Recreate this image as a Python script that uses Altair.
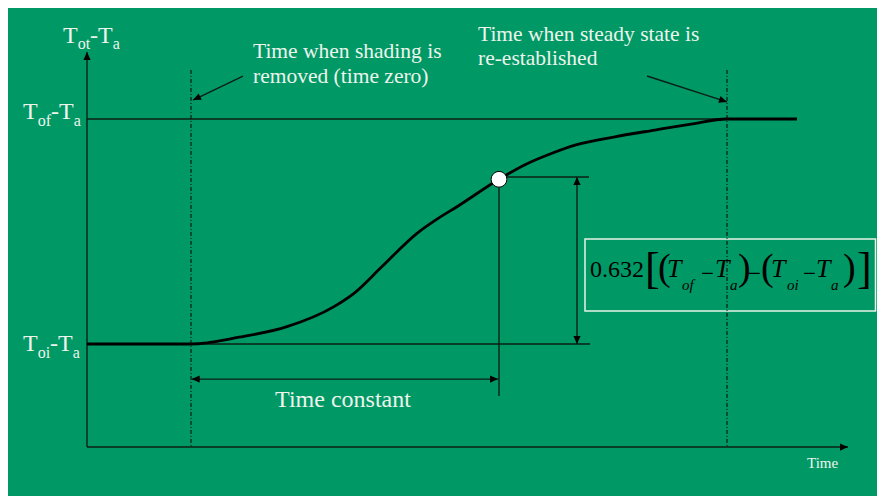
import math
import altair as alt
import pandas as pd

# ---------------- data ----------------
# time in arbitrary units (t = 0 when shading is removed),
# theta = normalised (To - Ta): 0 -> Toi - Ta, 1 -> Tof - Ta
curve_t = [-10.4, 0.0, 4.8, 9.6, 14.3, 16.3, 19.1, 22.6, 24.6, 26.6, 30.8,
           33.4, 36.1, 38.4, 42.4, 46.4, 50.0, 53.6, 60.6]
curve_theta = [0.0, 0.0, 0.030, 0.077, 0.166, 0.225, 0.344, 0.492, 0.555,
               0.610, 0.732, 0.797, 0.848, 0.884, 0.921, 0.951, 0.977, 1.0, 1.0]

t_origin = -10.4      # vertical axis
t_zero = 0.0          # shading removed
t_const = 30.8        # time constant
t_steady = 53.6       # steady state re-established
t_axis_end = 65.7
t_ref_end = 39.9
t_dim = 38.6          # vertical dimension arrow
theta_axis = -0.458   # horizontal axis
theta_axis_top = 1.298
theta_dotted_top = 1.218
theta_mark = 0.732
theta_ref = 0.742
theta_tc_arrow = -0.156
theta_tc_drop = -0.231

T_DOMAIN = [-18.3, 68.6]
TH_DOMAIN = [-0.6756, 1.4933]
W, H = 869, 488
PX_T = W / (T_DOMAIN[1] - T_DOMAIN[0])
PX_TH = H / (TH_DOMAIN[1] - TH_DOMAIN[0])

GREEN = "#009966"
TEXT = "#EEF4EC"
LINE = "#0b1f15"
FONT = "Liberation Serif"

X = lambda f: alt.X(f, type="quantitative", axis=None,
                    scale=alt.Scale(domain=T_DOMAIN, nice=False, zero=False))
Y = lambda f: alt.Y(f, type="quantitative", axis=None,
                    scale=alt.Scale(domain=TH_DOMAIN, nice=False, zero=False))

# segments: (t1, th1, t2, th2)
thin_segments = [
    (t_origin, theta_axis, t_origin, theta_axis_top),
    (t_origin, theta_axis, t_axis_end, theta_axis),
    (t_origin, 1.0, t_steady, 1.0),
    (t_origin, 0.0, t_ref_end, 0.0),
    (t_const, theta_ref, 39.8, theta_ref),
    (t_const, theta_mark, t_const, theta_tc_drop),
    (0.07, theta_tc_arrow, 30.7, theta_tc_arrow),
    (t_dim, theta_ref, t_dim, 0.0),
    (5.2, 1.191, 0.2, 1.084),
    (45.6, 1.191, 53.6, 1.076),
]
dotted_segments = [
    (t_zero, theta_dotted_top, t_zero, theta_axis),
    (t_steady, theta_dotted_top, t_steady, theta_axis),
]
# arrow heads: (segment index, which end is the tip: 1 or 2)
arrow_heads = [(0, 2), (1, 2), (6, 1), (6, 2), (7, 1), (7, 2), (8, 2), (9, 2)]


def seg_df(segs):
    return pd.DataFrame(segs, columns=["t", "th", "t2", "th2"])


def head_df():
    rows = []
    for i, end in arrow_heads:
        t1, th1, t2, th2 = thin_segments[i]
        if end == 1:
            tip, frm = (t1, th1), (t2, th2)
        else:
            tip, frm = (t2, th2), (t1, th1)
        dx = (tip[0] - frm[0]) * PX_T
        dy = -(tip[1] - frm[1]) * PX_TH
        a = math.degrees(math.atan2(dx, -dy)) % 360
        rows.append({"t": tip[0], "th": tip[1], "a": a})
    return pd.DataFrame(rows)


box = pd.DataFrame({"t": [39.4], "t2": [68.45], "th": [0.467], "th2": [0.147]})
curve = pd.DataFrame({"t": curve_t, "th": curve_theta})
mark = pd.DataFrame({"t": [t_const], "th": [theta_mark]})

layers = []
layers.append(alt.Chart(box).mark_rect(fillOpacity=0, stroke="#E8F2E8", strokeWidth=1.5)
              .encode(x=X("t"), x2="t2", y=Y("th"), y2="th2"))
layers.append(alt.Chart(seg_df(dotted_segments)).mark_rule(color="black", strokeWidth=1, strokeDash=[4, 2, 1, 2])
              .encode(x=X("t"), x2="t2", y=Y("th"), y2="th2"))
layers.append(alt.Chart(seg_df(thin_segments)).mark_rule(color=LINE, strokeWidth=1.4)
              .encode(x=X("t"), x2="t2", y=Y("th"), y2="th2"))
layers.append(alt.Chart(curve).mark_line(color="black", strokeWidth=2.8, interpolate="monotone")
              .encode(x=X("t"), y=Y("th")))
layers.append(alt.Chart(mark).mark_point(shape="circle", filled=True, fill="white", stroke="black",
                                         strokeWidth=1, size=250, opacity=1)
              .encode(x=X("t"), y=Y("th")))
layers.append(alt.Chart(head_df()).mark_point(shape="M0,0L0.9,2L-0.9,2Z", filled=True, color="black",
                                              size=64, opacity=1, strokeWidth=0)
              .encode(x=X("t"), y=Y("th"), angle=alt.Angle("a:Q", scale=None)))


def rich(t, th, pieces, color=TEXT):
    df = pd.DataFrame({"t": [t], "th": [th]})
    out = []
    for txt, dx, dy, size, italic in pieces:
        out.append(alt.Chart(df).mark_text(text=txt, dx=dx, dy=dy, fontSize=size, font=FONT,
                                           fontStyle="italic" if italic else "normal",
                                           align="left", baseline="alphabetic", color=color)
                   .encode(x=X("t"), y=Y("th")))
    return out


label_ot = [("T", 0, 0, 24, False), ("ot", 14.7, 6, 16, False), ("-", 27.1, 0, 24, False),
            ("T", 35.1, 0, 24, False), ("a", 49.8, 6, 16, False)]
label_of = [("T", 0, 0, 24, False), ("of", 14.7, 7, 16, False), ("-", 28.0, 0, 24, False),
            ("T", 36.0, 0, 24, False), ("a", 50.7, 7, 16, False)]
label_oi = [("T", 0, 0, 24, False), ("oi", 14.7, 7, 16, False), ("-", 27.1, 0, 24, False),
            ("T", 35.1, 0, 24, False), ("a", 49.8, 7, 16, False)]
layers += rich(-12.8, 1.338, label_ot)
layers += rich(-16.8, 1.0, label_of)
layers += rich(-16.8, -0.031, label_oi)

formula = [("0.632", 0, 0, 24, False), ("[", 55, 6, 44, False), ("(", 68, 3, 38, False),
           ("T", 77, 0, 26, True), ("of", 92, 13, 15, True), ("\u2212", 111, 4, 23, False),
           ("T", 125, 0, 26, True), ("a", 140, 13, 15, True), (")", 148, 3, 38, False),
           ("\u2212", 158, 4, 23, False), ("(", 171, 3, 38, False), ("T", 181, 0, 26, True),
           ("oi", 197, 13, 15, True), ("\u2212", 213, 4, 23, False), ("T", 226, 0, 26, True),
           ("a", 241, 13, 15, True), (")", 253, 3, 38, False), ("]", 267, 6, 44, False)]
layers += rich(39.9, 0.299, formula, color="black")

notes = pd.DataFrame({
    "t": [6.2, 6.2, 28.7, 28.7],
    "th": [1.272, 1.161, 1.347, 1.24],
    "txt": ["Time when shading is", "removed (time zero)",
            "Time when steady state is", "re-established"],
})
layers.append(alt.Chart(notes).mark_text(font=FONT, fontSize=21.5, align="left", baseline="alphabetic", color=TEXT)
              .encode(x=X("t"), y=Y("th"), text="txt:N"))
tc = pd.DataFrame({"t": [(t_zero + t_const) / 2 - 0.2], "th": [-0.279], "txt": ["Time constant"]})
layers.append(alt.Chart(tc).mark_text(font=FONT, fontSize=24, align="center", baseline="alphabetic", color=TEXT)
              .encode(x=X("t"), y=Y("th"), text="txt:N"))
tl = pd.DataFrame({"t": [61.6], "th": [-0.551], "txt": ["Time"]})
layers.append(alt.Chart(tl).mark_text(font=FONT, fontSize=15, align="left", baseline="alphabetic", color=TEXT)
              .encode(x=X("t"), y=Y("th"), text="txt:N"))

chart = alt.layer(*layers).properties(
    width=W, height=H, padding=0, background=GREEN,
    autosize=alt.AutoSizeParams(type="none"),
).configure_view(strokeWidth=0)

chart.save("out.html", embed_options={"renderer": "svg", "actions": False})
